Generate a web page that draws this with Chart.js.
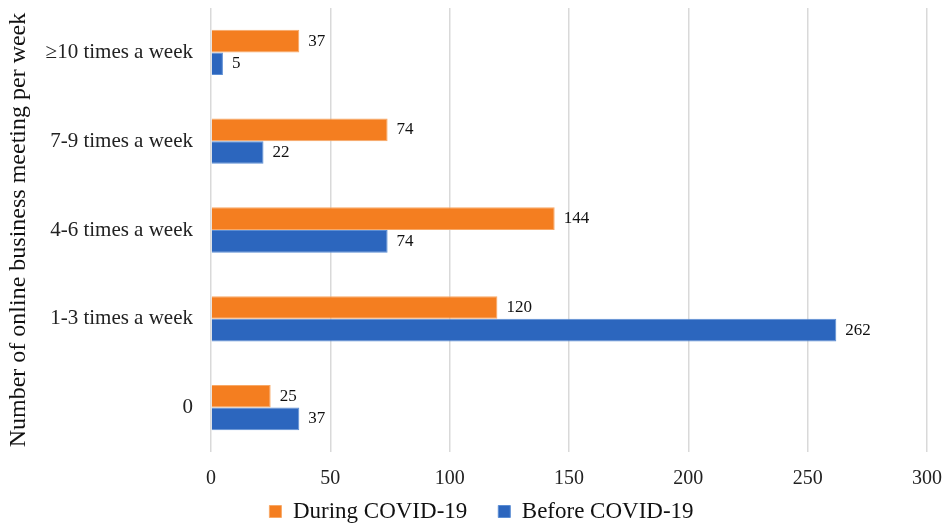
<!DOCTYPE html>
<html lang="en">
<head>
  <meta charset="UTF-8">
  <title>Online business meetings</title>
  <script src="https://cdn.jsdelivr.net/npm/chart.js"></script>
  <style>
    html, body { margin: 0; padding: 0; background: #fff; }
    #wrap { width: 945px; height: 527px; }
  </style>
</head>
<body>
  <div id="wrap"><canvas id="meetChart" width="945" height="527"></canvas></div>
  <script>
    const categories = ['≥10 times a week', '7-9 times a week', '4-6 times a week', '1-3 times a week', '0'];
    const duringCovid = [37, 74, 144, 120, 25];
    const beforeCovid = [5, 22, 74, 262, 37];
    const xTicks = [0, 50, 100, 150, 200, 250, 300];

    const serif = 'Liberation Serif, Times New Roman, serif';

    // draws the value at the end of each bar
    const valueLabels = {
      id: 'valueLabels',
      afterDatasetsDraw(chart) {
        const ctx = chart.ctx;
        ctx.save();
        ctx.font = '17px ' + serif;
        ctx.fillStyle = '#111';
        ctx.textAlign = 'left';
        ctx.textBaseline = 'middle';
        chart.data.datasets.forEach((ds, i) => {
          chart.getDatasetMeta(i).data.forEach((bar, j) => {
            ctx.fillText(ds.data[j], bar.x + 9, bar.y);
          });
        });
        ctx.restore();
      }
    };

    // legend padding also sets the gap between items, so pull the row back up
    // (only the top moves, the legend clips to its own box) and a bit right
    const legendLift = {
      id: 'legendLift',
      afterLayout(chart) {
        chart.legend.top -= 21;
        chart.legend.left += 18;
        chart.legend.right += 18;
      }
    };

    new Chart(document.getElementById('meetChart').getContext('2d'), {
      type: 'bar',
      data: {
        labels: categories,
        datasets: [
          {
            label: 'During COVID-19',
            data: duringCovid,
            backgroundColor: '#F47E20',
            borderColor: '#F8A866',
            borderWidth: 1,
            categoryPercentage: 0.51,
            barPercentage: 1
          },
          {
            label: 'Before COVID-19',
            data: beforeCovid,
            backgroundColor: '#2C66BE',
            borderColor: '#5C8ED4',
            borderWidth: 1,
            categoryPercentage: 0.51,
            barPercentage: 1
          }
        ]
      },
      options: {
        indexAxis: 'y',
        responsive: false,
        animation: false,
        layout: { padding: { top: 8, right: 18, left: 0, bottom: 0 } },
        plugins: {
          legend: {
            position: 'bottom',
            maxHeight: 37,
            labels: {
              font: { family: serif, size: 23 },
              color: '#111',
              boxWidth: 12,
              boxHeight: 12,
              padding: 31
            }
          },
          tooltip: { enabled: false }
        },
        scales: {
          x: {
            min: 0,
            max: 300,
            afterBuildTicks: scale => { scale.ticks = xTicks.map(v => ({ value: v })); },
            afterFit: scale => {
              scale.height = 38;
              scale.paddingLeft = 0;
              scale.paddingRight = 0;
            },
            grid: { color: '#d9d9d9', lineWidth: 1.5, drawTicks: false },
            border: { display: false },
            ticks: { font: { family: serif, size: 20 }, color: '#222', padding: 15 }
          },
          y: {
            afterFit: scale => {
              scale.width = 211;
              scale.paddingTop = 0;
              scale.paddingBottom = 0;
            },
            grid: { display: false, drawTicks: false },
            border: { display: false },
            ticks: { font: { family: serif, size: 21 }, color: '#222', padding: 18 },
            title: {
              display: true,
              text: 'Number of online business meeting per week',
              font: { family: serif, size: 24 },
              color: '#111',
              padding: { top: 4, bottom: 4 }
            }
          }
        }
      },
      plugins: [valueLabels, legendLift]
    });
  </script>
</body>
</html>
